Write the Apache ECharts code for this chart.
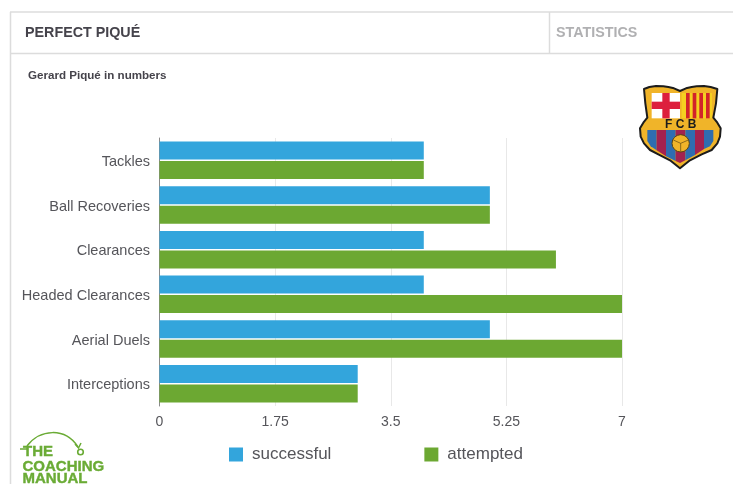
<!DOCTYPE html>
<html>
<head>
<meta charset="utf-8">
<style>html,body{margin:0;padding:0;background:#fff}#c{width:733px;height:484px;filter:blur(0.35px)}</style>
<script src="https://cdn.jsdelivr.net/npm/echarts@6/dist/echarts.min.js"></script>
</head>
<body>
<div id="c"></div>
<script>
const categories = ['Tackles','Ball Recoveries','Clearances','Headed Clearances','Aerial Duels','Interceptions'];
const successful = [4,5,4,4,5,3];
const attempted = [4,5,6,7,7,3];
const FONT = '"Liberation Sans", Arial, sans-serif';
const BLUE = '#33a5dc', GREEN = '#6ca832', BRAND = '#6aab35', FRAME = '#dcdcdc';

function ln(x1,y1,x2,y2){return {type:'line',silent:true,shape:{x1,y1,x2,y2},style:{stroke:FRAME,lineWidth:1.5}};}
function txt(x,y,text,fontSize,fill,weight,extra){
  return {type:'text',silent:true,x,y,style:Object.assign({text,fontSize,fill,fontWeight:weight||'normal',fontFamily:FONT,textVerticalAlign:'middle'},extra||{})};
}
function crest(){
  // crest drawn in a 300-unit box, placed by group scale
  const outline = [[42,42],[58,36],[78,33],[100,34],[115,36],[132,40],[150,48],[168,40],[185,36],[200,34],[222,33],[242,36],[262,42],[258,85],[250,128],[262,143],[272,160],[270,185],[262,205],[245,225],[215,238],[180,256],[150,280],[120,256],[85,238],[60,225],[42,205],[32,185],[30,160],[40,143],[52,128],[46,85]];
  const stripes = [
    ['#2f6db0',[[52,165],[80,165],[80,226],[62,214],[52,198]]],
    ['#a3224f',[[80,165],[108,165],[108,244],[80,226]]],
    ['#2f6db0',[[108,165],[137,165],[137,258],[108,244]]],
    ['#a3224f',[[137,165],[166,165],[166,256],[150,264],[137,258]]],
    ['#2f6db0',[[166,165],[195,165],[195,240],[166,256]]],
    ['#a3224f',[[195,165],[222,165],[222,222],[195,240]]],
    ['#2f6db0',[[222,165],[250,165],[250,198],[240,214],[222,222]]]
  ].map(s=>({type:'polygon',shape:{points:s[1]},style:{fill:s[0]}}));
  const bars = [{type:'rect',shape:{x:155,y:54,width:91,height:76},style:{fill:'#f5d020'}}];
  [168,188,208,228].forEach(x=>{
    bars.push({type:'rect',shape:{x,y:54,width:11,height:76},style:{fill:'#d2232a'}});
  });
  return {type:'group',x:630,y:75,scaleX:1/3,scaleY:1/3,silent:true,children:[
    {type:'polygon',shape:{points:outline},style:{fill:'#f0b429',stroke:'#1c1c1c',lineWidth:6,lineJoin:'round'}},
    {type:'rect',shape:{x:65,y:54,width:85,height:76},style:{fill:'#ffffff'}},
    {type:'rect',shape:{x:97,y:54,width:22,height:76},style:{fill:'#dd1f3d'}},
    {type:'rect',shape:{x:65,y:80,width:85,height:22},style:{fill:'#dd1f3d'}}
  ].concat(bars,stripes,[
    {type:'text',x:152,y:148,style:{text:'F C B',fontSize:36,fontWeight:'bold',fill:'#1c1c1c',fontFamily:FONT,textAlign:'center',textVerticalAlign:'middle'}},
    {type:'circle',shape:{cx:152,cy:205,r:26},style:{fill:'#f0b429',stroke:'#5a4410',lineWidth:3}},
    {type:'polyline',shape:{points:[[130,195],[152,205],[175,195]]},style:{fill:'none',stroke:'#5a4410',lineWidth:2}},
    {type:'line',shape:{x1:152,y1:205,x2:152,y2:230},style:{stroke:'#5a4410',lineWidth:2}}
  ])};
}
const graphics = [
  ln(10,12,733,12), ln(10,53.5,733,53.5), ln(10.5,12,10.5,484), ln(549.5,12,549.5,53.5),
  txt(25,33.5,'PERFECT PIQUÉ',14.3,'#45434b','bold'),
  txt(556,33.5,'STATISTICS',14.3,'#b0b0b2','bold'),
  txt(28,76,'Gerard Piqué in numbers',11.6,'#45434b','bold'),
  crest(),
  txt(23,452,'THE',15,BRAND,'bold',{stroke:BRAND,lineWidth:0.4}),
  txt(22.5,466.5,'COACHING',15,BRAND,'bold',{stroke:BRAND,lineWidth:0.4}),
  txt(22.5,479,'MANUAL',15,BRAND,'bold',{stroke:BRAND,lineWidth:0.4}),
  {type:'bezierCurve',silent:true,shape:{x1:27,y1:446,x2:78,y2:447,cpx1:40,cpy1:429,cpx2:65,cpy2:427},style:{fill:'none',stroke:BRAND,lineWidth:1.5}},
  {type:'polyline',silent:true,shape:{points:[[75,444],[78.5,448],[81,443]]},style:{fill:'none',stroke:BRAND,lineWidth:1.5}},
  {type:'circle',silent:true,shape:{cx:80.5,cy:452,r:2.8},style:{fill:'none',stroke:BRAND,lineWidth:1.6}},
  {type:'line',silent:true,shape:{x1:20,y1:449,x2:28,y2:449},style:{stroke:BRAND,lineWidth:1.5}}
];
const chart = echarts.init(document.getElementById('c'),null,{renderer:'canvas'});
chart.setOption({
  animation:false,
  backgroundColor:'#fff',
  textStyle:{fontFamily:FONT},
  grid:{left:159.5,right:111,top:138,bottom:78,containLabel:false},
  legend:{
    left:229,top:446,padding:0,itemWidth:14,itemHeight:14,itemGap:93,icon:'rect',selectedMode:false,
    textStyle:{fontSize:17,color:'#55555a',fontFamily:FONT,padding:[0,0,0,4]},
    data:['successful','attempted']
  },
  xAxis:{
    type:'value',min:0,max:7,interval:1.75,
    axisLine:{show:false},axisTick:{show:false},
    splitLine:{lineStyle:{color:'#e8e8e8',width:1}},
    axisLabel:{fontSize:14,color:'#55555a',margin:9,formatter:v=>String(v),fontFamily:FONT}
  },
  yAxis:{
    type:'category',inverse:true,data:categories,
    axisLine:{lineStyle:{color:'#8a8a8a',width:1}},axisTick:{show:false},
    axisLabel:{margin:9.5,formatter:v=>'{a|'+v+'}',rich:{a:{fontSize:14.5,color:'#55555a',fontFamily:FONT,padding:[3,0,0,0]}}}
  },
  series:[
    {name:'successful',type:'bar',data:successful,barWidth:18,barGap:'8%',itemStyle:{color:BLUE}},
    {name:'attempted',type:'bar',data:attempted,barWidth:18,itemStyle:{color:GREEN}}
  ],
  graphic:graphics
});
</script>
</body>
</html>
